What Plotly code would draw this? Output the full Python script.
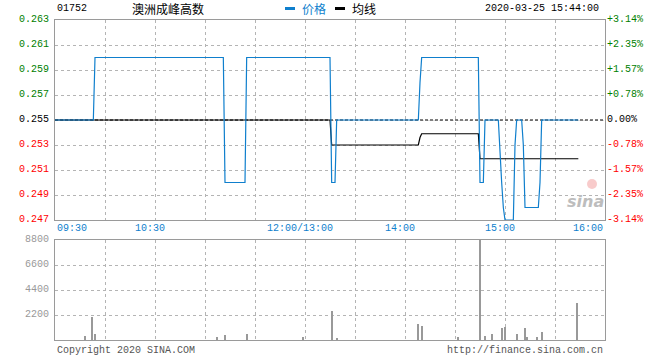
import plotly.graph_objects as go

# ---------------- data ----------------
stock_code = "01752"
stock_name = "澳洲成峰高数"
stamp = "2020-03-25 15:44:00"
prev_close = 0.255

price_times = ["09:30", "09:53", "09:54", "11:11", "11:12", "11:24", "11:25",
               "13:15", "13:16", "13:18", "13:19", "14:08", "14:09", "14:10",
               "14:44", "14:45", "14:47", "14:48", "14:56", "14:57", "14:58",
               "14:59", "15:00", "15:05", "15:06", "15:07", "15:10", "15:11",
               "15:12", "15:20", "15:21", "15:22", "15:44"]
price_values = [0.255, 0.255, 0.260, 0.260, 0.250, 0.250, 0.260,
                0.260, 0.250, 0.250, 0.255, 0.255, 0.258, 0.260,
                0.260, 0.250, 0.250, 0.255, 0.255, 0.252, 0.250,
                0.248, 0.247, 0.247, 0.253, 0.255, 0.255, 0.253,
                0.248, 0.248, 0.250, 0.255, 0.255]

avg_times = ["09:30", "13:15", "13:16", "14:08", "14:09", "14:10", "14:44", "14:45", "15:44"]
avg_values = [0.2550, 0.2550, 0.2530, 0.2530, 0.2536, 0.2539, 0.2539, 0.2519, 0.2519]

vol_times = ["09:48", "09:52", "09:54", "11:07", "11:12", "11:25", "11:59",
             "13:16", "13:19", "14:08", "14:10", "14:32", "14:45", "14:48",
             "14:52", "14:58", "15:00", "15:07", "15:12", "15:13", "15:19",
             "15:22", "15:43"]
vol_values = [380, 2050, 530, 260, 440, 530, 290,
              2550, 200, 1410, 1260, 290, 10000, 380,
              550, 1080, 1170, 550, 1080, 290, 290,
              730, 3280]

price_ticks = [0.247, 0.249, 0.251, 0.253, 0.255, 0.257, 0.259, 0.261, 0.263]
vol_ticks = [2200, 4400, 6600, 8800]
time_labels = ["09:30", "10:30", "12:00/13:00", "14:00", "15:00", "16:00"]
time_label_pos = ["09:30", "10:30", "12:00", "14:00", "15:00", "16:00"]


def t2m(s):
    h, mn = map(int, s.split(":"))
    t = h * 60 + mn
    if t <= 12 * 60:
        return t - (9 * 60 + 30)
    return 150 + t - 13 * 60


# ---------------- styling ----------------
W, H = 660, 360
L, R, T, B = 55, 55, 20, 20
PW, PH = W - L - R, H - T - B
BLUE = "#0f7fcd"
GRID = "#b4b4b4"
FRAME = "#9a9a9a"
MONO = "Liberation Mono, DejaVu Sans Mono, monospace"
CJK = "Noto Sans CJK SC, sans-serif"


def py(ypix):  # pixel y (from top) -> paper y
    return (H - B - ypix) / PH


def px(xpix):
    return (xpix - L) / PW


px_time = [t2m(t) for t in price_times]
av_time = [t2m(t) for t in avg_times]
vl_time = [t2m(t) for t in vol_times]
xmax = t2m("16:00")


def pcolor(p):
    if p > prev_close + 1e-9:
        return "#008000"
    if p < prev_close - 1e-9:
        return "#ff0000"
    return "#000000"


left_text = [f"<span style='color:{pcolor(p)}'>{p:.3f}</span>" for p in price_ticks]
pct_ticks = [(p / prev_close - 1) * 100 for p in price_ticks]
right_text = []
for p, v in zip(price_ticks, pct_ticks):
    s = f"{v:+.2f}%" if abs(v) > 1e-9 else "0.00%"
    right_text.append(f"<span style='color:{pcolor(p)}'>{s}</span>")

fig = go.Figure()

# prev close reference line (white base + black dashes)
fig.add_trace(go.Scatter(x=[0, xmax], y=[prev_close, prev_close], mode="lines",
                         line=dict(color="white", width=1.2), hoverinfo="skip",
                         xaxis="x", yaxis="y", showlegend=False))
fig.add_trace(go.Scatter(x=[0, xmax], y=[prev_close, prev_close], mode="lines",
                         line=dict(color="black", width=1.2, dash="3px,2px"),
                         hoverinfo="skip", xaxis="x", yaxis="y", showlegend=False))
# average line
fig.add_trace(go.Scatter(x=av_time, y=avg_values, mode="lines",
                         line=dict(color="black", width=1.2), xaxis="x", yaxis="y",
                         showlegend=False))
# price line
fig.add_trace(go.Scatter(x=px_time, y=price_values, mode="lines",
                         line=dict(color=BLUE, width=1.2), xaxis="x", yaxis="y",
                         showlegend=False))
# invisible trace for right axis
fig.add_trace(go.Scatter(x=[0], y=[0], mode="markers", marker=dict(opacity=0),
                         xaxis="x", yaxis="y3", showlegend=False, hoverinfo="skip"))
# volume
fig.add_trace(go.Bar(x=vl_time, y=vol_values, width=0.6,
                     marker=dict(color="#999999", line=dict(width=0)),
                     xaxis="x2", yaxis="y2", showlegend=False))

main_dom = [py(220), 1]
vol_dom = [0, py(240)]

common_x = dict(range=[0, xmax], tickmode="linear", tick0=0, dtick=30,
                showgrid=True, gridcolor=GRID, griddash="dot", gridwidth=1,
                showticklabels=False, ticks="", zeroline=False,
                showline=True, linecolor=FRAME, linewidth=1, mirror=True)

fig.update_layout(
    width=W, height=H, margin=dict(l=L, r=R, t=T, b=B),
    paper_bgcolor="white", plot_bgcolor="white",
    bargap=0,
    xaxis=dict(domain=[0, 1], anchor="y", **common_x),
    xaxis2=dict(domain=[0, 1], anchor="y2", **common_x),
    yaxis=dict(domain=main_dom, range=[price_ticks[0], price_ticks[-1]],
               tickmode="array", tickvals=price_ticks, ticktext=left_text,
               showgrid=True, gridcolor=GRID, griddash="dot", gridwidth=1,
               zeroline=False, ticks="", ticklabelstandoff=3, ticklabelshift=-2,
               tickfont=dict(family=MONO, size=10),
               showline=True, linecolor=FRAME, linewidth=1, mirror=True),
    yaxis3=dict(domain=main_dom, overlaying="y", side="right", anchor="x",
                range=[pct_ticks[0], pct_ticks[-1]],
                tickmode="array", tickvals=pct_ticks, ticktext=right_text,
                showgrid=False, zeroline=False, ticks="", ticklabelstandoff=1,
                ticklabelshift=-2, tickfont=dict(family=MONO, size=10)),
    yaxis2=dict(domain=vol_dom, range=[0, vol_ticks[-1]], anchor="x2",
                tickmode="array", tickvals=vol_ticks,
                ticktext=[str(v) for v in vol_ticks],
                showgrid=True, gridcolor=GRID, griddash="dot", gridwidth=1,
                zeroline=False, ticks="", ticklabelstandoff=3, ticklabelshift=-2,
                tickfont=dict(family=MONO, size=10, color="#999999"),
                showline=True, linecolor=FRAME, linewidth=1, mirror=True),
)

ann = []
# time labels
for i, (lab, pos) in enumerate(zip(time_labels, time_label_pos)):
    if i == 0:
        anchor, shift = "left", 0
    elif i == len(time_labels) - 1:
        anchor, shift = "right", 0
    else:
        anchor, shift = "center", -5
    ann.append(dict(x=t2m(pos), xref="x", y=py(228), yref="paper", text=lab,
                    showarrow=False, xanchor=anchor, yanchor="middle", xshift=shift,
                    font=dict(family=MONO, size=10, color=BLUE)))
# header
ann.append(dict(x=px(55), y=py(8.5), xref="paper", yref="paper", text=stock_code,
                showarrow=False, xanchor="left", yanchor="middle",
                font=dict(family=MONO, size=10, color="black")))
ann.append(dict(x=px(130), y=py(8.5), xref="paper", yref="paper", text=stock_name,
                showarrow=False, xanchor="left", yanchor="middle",
                font=dict(family=CJK, size=12, color="black")))
ann.append(dict(x=px(300), y=py(8.5), xref="paper", yref="paper", text="价格",
                showarrow=False, xanchor="left", yanchor="middle",
                font=dict(family=CJK, size=12, color=BLUE)))
ann.append(dict(x=px(350), y=py(8.5), xref="paper", yref="paper", text="均线",
                showarrow=False, xanchor="left", yanchor="middle",
                font=dict(family=CJK, size=12, color="black")))
ann.append(dict(x=px(601), y=py(8.5), xref="paper", yref="paper", text=stamp,
                showarrow=False, xanchor="right", yanchor="middle",
                font=dict(family=MONO, size=10, color="black")))
# footer
ann.append(dict(x=px(55), y=py(350), xref="paper", yref="paper",
                text="Copyright 2020 SINA.COM", showarrow=False,
                xanchor="left", yanchor="middle",
                font=dict(family=MONO, size=10, color="#555555")))
ann.append(dict(x=px(605), y=py(350), xref="paper", yref="paper",
                text="http://finance.sina.com.cn", showarrow=False,
                xanchor="right", yanchor="middle",
                font=dict(family=MONO, size=10, color="#555555")))
# watermark
ann.append(dict(x=px(585), y=py(201), xref="paper", yref="paper", text="<b><i>sina</i></b>",
                showarrow=False, xanchor="center", yanchor="middle",
                font=dict(family="DejaVu Sans", size=16, color="#bdbdbd")))
fig.update_layout(annotations=ann)

shapes = [
    dict(type="rect", xref="paper", yref="paper", x0=px(285), x1=px(295),
         y0=py(10), y1=py(7), fillcolor=BLUE, line=dict(width=0)),
    dict(type="rect", xref="paper", yref="paper", x0=px(335), x1=px(345),
         y0=py(10), y1=py(7), fillcolor="black", line=dict(width=0)),
    dict(type="circle", xref="paper", yref="paper", x0=px(587), x1=px(597),
         y0=py(189), y1=py(179), fillcolor="rgba(240,140,140,0.45)", line=dict(width=0)),
]
fig.update_layout(shapes=shapes)

fig.write_html("out.html")
